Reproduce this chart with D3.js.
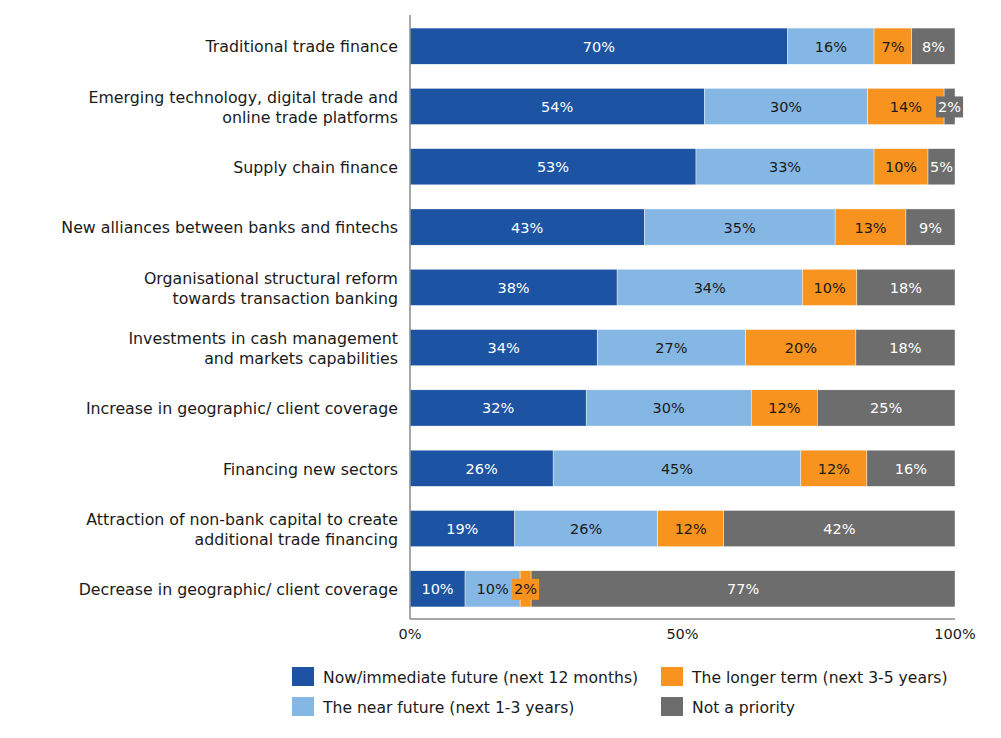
<!DOCTYPE html>
<html><head><meta charset="utf-8">
<script src="https://cdn.jsdelivr.net/npm/d3@7"></script>
<style>body{margin:0;background:#fff}text{font-family:"DejaVu Sans",sans-serif}</style>
</head><body><svg id="c" width="1001" height="738"></svg>
<script>
const categories = [
  ["Traditional trade finance"],
  ["Emerging technology, digital trade and","online trade platforms"],
  ["Supply chain finance"],
  ["New alliances between banks and fintechs"],
  ["Organisational structural reform","towards transaction banking"],
  ["Investments in cash management","and markets capabilities"],
  ["Increase in geographic/ client coverage"],
  ["Financing new sectors"],
  ["Attraction of non-bank capital to create","additional trade financing"],
  ["Decrease in geographic/ client coverage"]
];
const seriesNames = ["Now/immediate future (next 12 months)","The near future (next 1-3 years)","The longer term (next 3-5 years)","Not a priority"];
const nowVals    = [70,54,53,43,38,34,32,26,19,10];
const nearVals   = [16,30,33,35,34,27,30,45,26,10];
const longerVals = [7,14,10,13,10,20,12,12,12,2];
const notVals    = [8,2,5,9,18,18,25,16,42,77];
const tickVals = [0,0.5,1];
const tickLabels = ["0%","50%","100%"];

const colors = ["#1c54a3","#85b7e4","#f7931e","#6d6d6d"];
const textColors = ["#ffffff","#1a1a1a","#1a1a1a","#ffffff"];
const keys = ["now","near","longer","not"];
const rows = categories.map((c,i)=>({cat:i, now:nowVals[i], near:nearVals[i], longer:longerVals[i], not:notVals[i]}));
const stack = d3.stack().keys(keys).offset(d3.stackOffsetExpand)(rows);

const svg = d3.select("#c");
const x = d3.scaleLinear().domain([0,1]).range([410,955]);
const y = d3.scaleBand().domain(d3.range(categories.length)).range([16,619]).paddingInner(0.4).paddingOuter(0.2);

// bars
stack.forEach((s,si)=>{
  const g = svg.append("g");
  g.selectAll("rect").data(s).join("rect")
    .attr("x",d=>x(d[0])).attr("width",d=>x(d[1])-x(d[0]))
    .attr("y",d=>y(d.data.cat)).attr("height",y.bandwidth())
    .attr("fill",colors[si]).attr("stroke","#fff").attr("stroke-width",0.4);
});
// labels
stack.forEach((s,si)=>{
  s.forEach(d=>{
    const v = d.data[keys[si]];
    const cx = (x(d[0])+x(d[1]))/2, cy = y(d.data.cat)+y.bandwidth()/2;
    const t = svg.append("text").attr("x",cx).attr("y",cy).attr("dy","0.38em")
      .attr("text-anchor","middle").style("font-size","14.5px").attr("fill",textColors[si]).text(v+"%");
    const w = t.node().getComputedTextLength();
    if (w + 2 > x(d[1])-x(d[0])) {
      svg.insert("rect", function(){return t.node();})
        .attr("x",cx-w/2-2).attr("width",w+4).attr("y",cy-10).attr("height",21).attr("fill",colors[si]);
    }
  });
});

// axes lines
svg.append("line").attr("x1",410).attr("x2",410).attr("y1",15).attr("y2",619).attr("stroke","#8a8a8a").attr("stroke-width",1.5);
svg.append("line").attr("x1",410).attr("x2",955).attr("y1",619).attr("y2",619).attr("stroke","#8a8a8a").attr("stroke-width",1.5);

// tick labels
svg.selectAll(".tick").data(tickVals).join("text").attr("class","tick")
  .attr("x",d=>x(d)).attr("y",639).attr("text-anchor","middle").style("font-size","14.5px").attr("fill","#1a1a1a")
  .text((d,i)=>tickLabels[i]);

// category labels
categories.forEach((lines,i)=>{
  const cy = y(i)+y.bandwidth()/2;
  const t = svg.append("text").attr("text-anchor","end").style("font-size","15.8px").attr("fill","#1a1a1a");
  lines.forEach((ln,k)=>{
    t.append("tspan").attr("x",398).attr("y",cy + (k-(lines.length-1)/2)*20).attr("dy","0.4em").text(ln);
  });
});

// legend
const legPos = [[292,677],[292,707],[661,677],[661,707]];
seriesNames.forEach((n,i)=>{
  const [lx,ly] = legPos[i];
  svg.append("rect").attr("x",lx).attr("y",ly-10).attr("width",22).attr("height",19).attr("fill",colors[i]);
  svg.append("text").attr("x",lx+31).attr("y",ly).attr("dy","0.38em").style("font-size","15.6px").attr("fill","#1a1a1a").text(n);
});
</script></body></html>
